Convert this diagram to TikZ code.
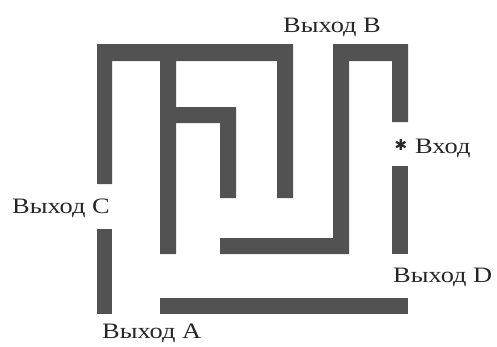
\documentclass[tikz,border=0pt]{standalone}
\usepackage{fontspec}
\setmainfont{Liberation Serif}
\newfontfamily\labfont[FakeStretch=1.2]{Liberation Serif}
\newfontfamily\symfont{DejaVu Sans}
\definecolor{wallc}{RGB}{82,82,82}
\tikzset{
  wall/.style={fill=wallc, draw=none},
  lab/.style={anchor=base west, inner sep=0pt, font=\labfont\fontsize{22}{26}\selectfont, text=black!85}
}
\begin{document}
\begin{tikzpicture}[x=1pt,y=-1pt]
\useasboundingbox (0,0) rectangle (497,346);
% walls
\fill[wall] (97,44) -- (293,44) -- (293,198) -- (277,198) -- (277,61) -- (176,61) -- (176,254) -- (160,254) -- (160,61) -- (112,61) -- (112,184) -- (97,184) -- cycle;
\fill[wall] (176,107) -- (236,107) -- (236,198) -- (220,198) -- (220,123) -- (176,123) -- cycle;
\fill[wall] (333,44) -- (408,44) -- (408,122) -- (392,122) -- (392,61) -- (349,61) -- (349,254) -- (220,254) -- (220,238) -- (333,238) -- cycle;
\fill[wall] (392,166) rectangle (408,254);
\fill[wall] (97,229) rectangle (112,314);
\fill[wall] (160,298) rectangle (408,314);
% labels
\node[lab] (exB) at (283,32) {Выход B};
\node[lab] (exC) at (12,213) {Выход C};
\node[lab] (entr) at (415,153) {Вход};
\node[anchor=center, inner sep=0pt, font=\symfont\fontsize{15}{17}\selectfont, text=black!85] (star) at (401,145) {✱};
\node[lab] (exD) at (393,282) {Выход D};
\node[lab] (exA) at (102,338) {Выход A};
\end{tikzpicture}
\end{document}
